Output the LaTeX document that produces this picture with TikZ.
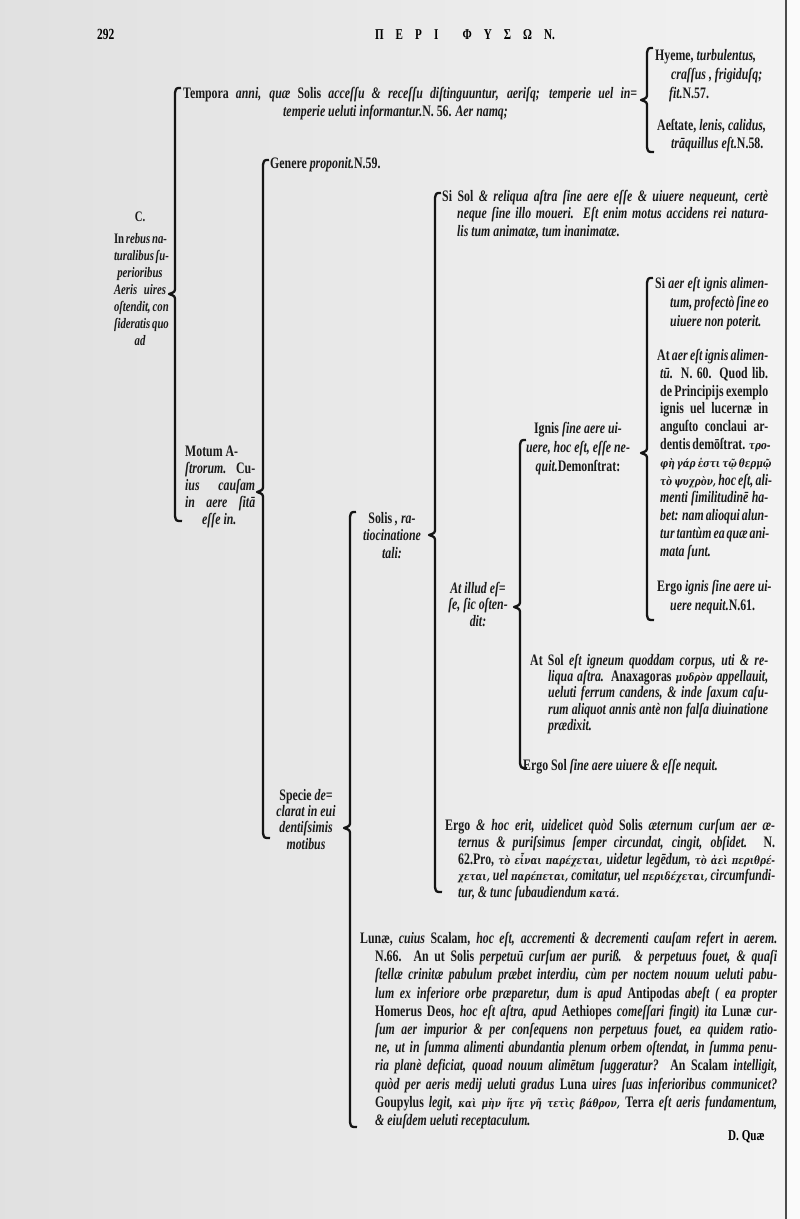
\documentclass[tikz,border=0pt]{standalone}
\usepackage{fontspec}
\setmainfont{Liberation Serif}[FakeStretch=0.74]
\newfontfamily\grfont{DejaVu Serif}[Scale=0.7, FakeStretch=0.8]
\newcommand\J[2]{\makebox[#1pt][s]{#2}}
\newcommand\Up[1]{{\upshape #1}}
\newcommand\G[1]{{\grfont\bfseries\itshape #1}}
\newcommand\tr{\rule{0pt}{11pt}}
\newcommand\Brk[5]{% name, x, top, bottom, tip
  \coordinate (#1) at (#2-6,#5);
  \draw[brk] (#2+6,#3) .. controls (#2+1,#3) .. (#2,#3+5) -- (#2,#5-7)
    .. controls (#2,#5-2) .. (#1) .. controls (#2,#5+2) .. (#2,#5+7)
    -- (#2,#4-5) .. controls (#2+1,#4) .. (#2+7,#4);}
\tikzset{
  brk/.style={line width=2.3pt, black!92, line join=round},
  txt/.style={font=\fontsize{16}{#1}\selectfont\bfseries\itshape, align=left, inner sep=0pt, anchor=north west, text=black!90},
  ctxt/.style={font=\fontsize{16}{#1}\selectfont\bfseries\itshape, align=center, inner sep=0pt, anchor=north, text=black!90}
}
\begin{document}
\begin{tikzpicture}[x=1pt,y=-1pt]
\useasboundingbox (0,0) rectangle (800,1219);
% page
\shade[left color=black!12, right color=black!5] (0,0) rectangle (786,1219);
\fill[black!2] (786,0) rectangle (800,1219);
\draw[line width=2.5pt, black!70] (786,0) -- (786,1219);

% header
\node[anchor=base west, inner sep=0pt, font=\fontsize{15.5}{15}\selectfont\bfseries] (pg) at (97,39) {292};
\node[anchor=base, inner sep=0pt, font=\fontsize{15}{15}\selectfont\bfseries] (hd) at (465,39) {\makebox[180pt][s]{Π Ε Ρ Ι \ Φ Υ Σ Ω Ν.}};

% brackets
\Brk{b1}{175}{88}{521}{294}
\Brk{b2}{647}{48}{152}{100}
\Brk{b3}{263}{160}{838}{492}
\Brk{b4}{435}{193}{892}{535}
\Brk{b5}{350}{512}{1127}{828}
\Brk{b6}{520}{440}{768}{607}
\Brk{b7}{647}{278}{620}{453}

% level 0 label
\node[ctxt=17, font=\fontsize{14.5}{17}\selectfont\bfseries\itshape] (clabel) at (140,210) {\tr\Up{C.}\\[5pt]\J{52}{\Up{In} rebus na-}\\\J{52}{turalibus ſu-}\\perioribus\\\J{52}{Aeris uires}\\\J{52}{oſtendit, con}\\\J{52}{ſideratis quo}\\ad};

% Tempora
\node[txt=18] (tempora) at (183,87) {\tr\J{454}{\Up{Tempora} anni, quæ \Up{Solis} acceſſu \& receſſu diſtinguuntur, aeriſq; temperie uel in=}\\
\hspace*{100pt}temperie ueluti informantur.\Up{N. 56.} Aer namq;};
\node[txt=19] (hyeme) at (655,49) {\tr\Up{Hyeme,} turbulentus,\\\hspace*{16pt}craſſus , frigiduſq;\\\hspace*{14pt}fit.\Up{N.57.}};
\node[txt=18] (aestate) at (657,119) {\tr\Up{Aeſtate,} lenis, calidus,\\\hspace*{14pt}trāquillus eſt.\Up{N.58.}};

% Motum Astrorum
\node[txt=17] (motum) at (185,445) {\tr\Up{Motum A-}\\\J{70}{ſtrorum. \Up{Cu-}}\\\J{70}{ius cauſam}\\\J{70}{in aere ſitā}\\\hspace*{17pt}eſſe in.};
\node[txt=17] (genere) at (270,157) {\tr\Up{Genere} proponit.\Up{N.59.}};
\node[ctxt=16.3] (specie) at (306,789) {\tr\Up{Specie} de=\\clarat in eui\\dentiſsimis\\motibus};

% Solis
\node[ctxt=17.5] (solis) at (392,512) {\tr\Up{Solis} , ra-\\tiocinatione\\tali:};
\node[txt=17.5] (sisol) at (442,190) {\tr\J{326}{\Up{Si Sol} \& reliqua aſtra ſine aere eſſe \& uiuere nequeunt, certè}\\
\hspace*{15pt}\J{311}{neque ſine illo moueri. Eſt enim motus accidens rei natura-}\\
\hspace*{15pt}lis tum animatæ, tum inanimatæ.};
\node[ctxt=16.5] (atillud) at (478,582) {\tr At illud eſ=\\ſe, ſic oſten-\\dit:};
\node[txt=16.8] (ergohoc) at (445,819) {\tr\J{330}{\Up{Ergo} \& hoc erit, uidelicet quòd \Up{Solis} æternum curſum aer æ-}\\
\hspace*{13pt}\J{317}{ternus \& puriſsimus ſemper circundat, cingit, obſidet. \Up{N.}}\\
\hspace*{13pt}\J{317}{\Up{62.Pro,} \G{τὸ εἶναι παρέχεται,} uidetur legēdum, \G{τὸ ἀεὶ περιθρέ-}}\\
\hspace*{13pt}\J{317}{\G{χεται,} uel \G{παρέπεται,} comitatur, uel \G{περιδέχεται,} circumfundi-}\\
\hspace*{13pt}tur, \& tunc ſubaudiendum \G{κατά.}};

% At illud children
\node[ctxt=19] (ignis) at (578,422) {\tr\Up{Ignis} ſine aere ui-\\uere, hoc eſt, eſſe ne-\\quit.\Up{Demonſtrat:}};
\node[txt=16.2] (atsol) at (530,654) {\tr\J{238}{\Up{At Sol} eſt igneum quoddam corpus, uti \& re-}\\
\hspace*{18pt}\J{220}{liqua aſtra. \Up{Anaxagoras} \G{μυδρὸν} appellauit,}\\
\hspace*{18pt}\J{220}{ueluti ferrum candens, \& inde ſaxum caſu-}\\
\hspace*{18pt}\J{220}{rum aliquot annis antè non falſa diuinatione}\\
\hspace*{18pt}prædixit.};
\node[txt=17] (ergosol) at (523,759) {\tr\Up{Ergo Sol} ſine aere uiuere \& eſſe nequit.};

% Ignis children
\node[txt=19] (siaer) at (655,277) {\tr\J{113}{\Up{Si} aer eſt ignis alimen-}\\\hspace*{15pt}\J{98}{tum, profectò ſine eo}\\\hspace*{15pt}uiuere non poterit.};
\node[txt=17.8] (ataer) at (657,349) {\tr\J{111}{\Up{At} aer eſt ignis alimen-}\\
\hspace*{3pt}\J{108}{tū. \Up{N. 60. Quod lib.}}\\
\hspace*{3pt}\J{108}{\Up{de Principijs exemplo}}\\
\hspace*{3pt}\J{108}{\Up{ignis uel lucernæ in}}\\
\hspace*{3pt}\J{108}{\Up{anguſto conclaui ar-}}\\
\hspace*{3pt}\J{108}{\Up{dentis demōſtrat.} \G{τρο-}}\\
\hspace*{3pt}\J{108}{\G{φὴ γάρ ἐστι τῷ θερμῷ}}\\
\hspace*{3pt}\J{108}{\G{τὸ ψυχρὸν,} hoc eſt, ali-}\\
\hspace*{3pt}\J{108}{menti ſimilitudinē ha-}\\
\hspace*{3pt}\J{108}{bet: nam alioqui alun-}\\
\hspace*{3pt}\J{108}{tur tantùm ea quæ ani-}\\
\hspace*{3pt}mata ſunt.};
\node[txt=19] (ergoignis) at (657,580) {\tr\Up{Ergo} ignis ſine aere ui-\\\hspace*{13pt}uere nequit.\Up{N.61.}};

% Luna
\node[txt=18.2] (luna) at (360,932) {\tr\J{417}{\Up{Lunæ,} cuius \Up{Scalam,} hoc eſt, accrementi \& decrementi cauſam refert in aerem.}\\
\hspace*{15pt}\J{402}{\Up{N.66. An ut Solis} perpetuū curſum aer puriß. \& perpetuus fouet, \& quaſi}\\
\hspace*{15pt}\J{402}{ſtellæ crinitæ pabulum præbet interdiu, cùm per noctem nouum ueluti pabu-}\\
\hspace*{15pt}\J{402}{lum ex inferiore orbe præparetur, dum is apud \Up{Antipodas} abeſt ( ea propter}\\
\hspace*{15pt}\J{402}{\Up{Homerus Deos,} hoc eſt aſtra, apud \Up{Aethiopes} comeſſari fingit) ita \Up{Lunæ} cur-}\\
\hspace*{15pt}\J{402}{ſum aer impurior \& per conſequens non perpetuus fouet, ea quidem ratio-}\\
\hspace*{15pt}\J{402}{ne, ut in ſumma alimenti abundantia plenum orbem oſtendat, in ſumma penu-}\\
\hspace*{15pt}\J{402}{ria planè deficiat, quoad nouum alimētum ſuggeratur? \Up{An Scalam} intelligit,}\\
\hspace*{15pt}\J{402}{quòd per aeris medij ueluti gradus \Up{Luna} uires ſuas inferioribus communicet?}\\
\hspace*{15pt}\J{402}{\Up{Goupylus} legit, \G{καὶ μὴν ἥτε γῆ τετὶς βάθρον,} \Up{Terra} eſt aeris fundamentum,}\\
\hspace*{15pt}\& eiuſdem ueluti receptaculum.};

\node[anchor=base west, inner sep=0pt, font=\fontsize{15}{15}\selectfont\bfseries] (dqua) at (728,1140) {D. Quæ};
\end{tikzpicture}
\end{document}
